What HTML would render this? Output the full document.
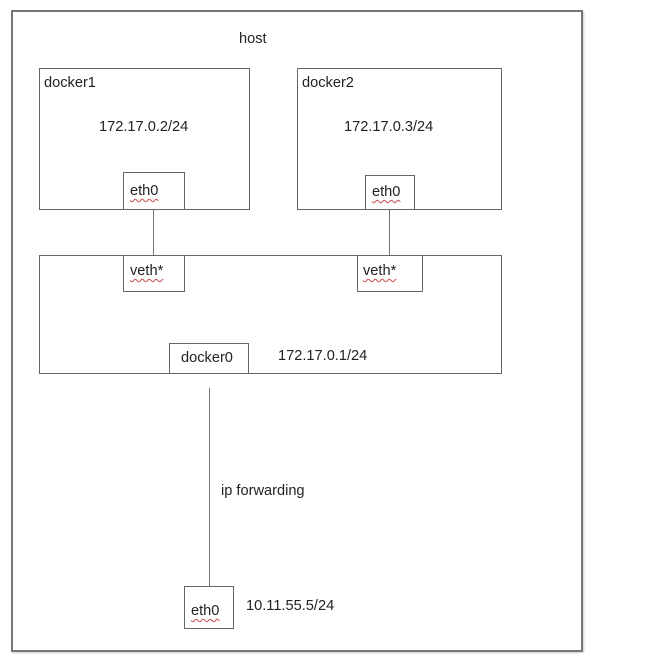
<!DOCTYPE html>
<html><head><style>
body{margin:0;width:646px;height:659px;background:#fff;position:relative;overflow:hidden;font-family:"Liberation Sans",sans-serif;font-size:14.6px;color:#222}
.b{position:absolute;border:1px solid #666;box-sizing:border-box;background:#fff}
.t{position:absolute;white-space:nowrap}
.l{position:absolute;background:#777;width:1px}
.u{text-decoration:underline wavy #d44;text-decoration-thickness:1px;text-underline-offset:3px}
</style></head><body>
<div class="b" style="left:11px;top:10px;width:572px;height:642px;border:2px solid #777;box-shadow:1px 1px 2px #ccc"></div>
<div class="t" style="left:239px;top:31px">host</div>

<div class="b" style="left:39px;top:68px;width:211px;height:142px"></div>
<div class="t" style="left:44px;top:75px">docker1</div>
<div class="t" style="left:99px;top:119px">172.17.0.2/24</div>
<div class="b" style="left:123px;top:172px;width:62px;height:38px"></div>
<div class="t u" style="left:130px;top:183px">eth0</div>

<div class="b" style="left:297px;top:68px;width:205px;height:142px"></div>
<div class="t" style="left:302px;top:75px">docker2</div>
<div class="t" style="left:344px;top:119px">172.17.0.3/24</div>
<div class="b" style="left:365px;top:175px;width:50px;height:35px"></div>
<div class="t u" style="left:372px;top:184px">eth0</div>

<div class="l" style="left:153px;top:209px;height:46px"></div>
<div class="l" style="left:389px;top:209px;height:46px"></div>

<div class="b" style="left:39px;top:255px;width:463px;height:119px"></div>
<div class="b" style="left:123px;top:255px;width:62px;height:37px"></div>
<div class="t u" style="left:130px;top:263px">veth*</div>
<div class="b" style="left:357px;top:255px;width:66px;height:37px"></div>
<div class="t u" style="left:363px;top:263px">veth*</div>
<div class="b" style="left:169px;top:343px;width:80px;height:31px"></div>
<div class="t" style="left:181px;top:350px">docker0</div>
<div class="t" style="left:278px;top:348px">172.17.0.1/24</div>

<div class="l" style="left:209px;top:388px;height:199px"></div>
<div class="t" style="left:221px;top:483px">ip forwarding</div>
<div class="b" style="left:184px;top:586px;width:50px;height:43px"></div>
<div class="t u" style="left:191px;top:603px">eth0</div>
<div class="t" style="left:246px;top:598px">10.11.55.5/24</div>
</body></html>
